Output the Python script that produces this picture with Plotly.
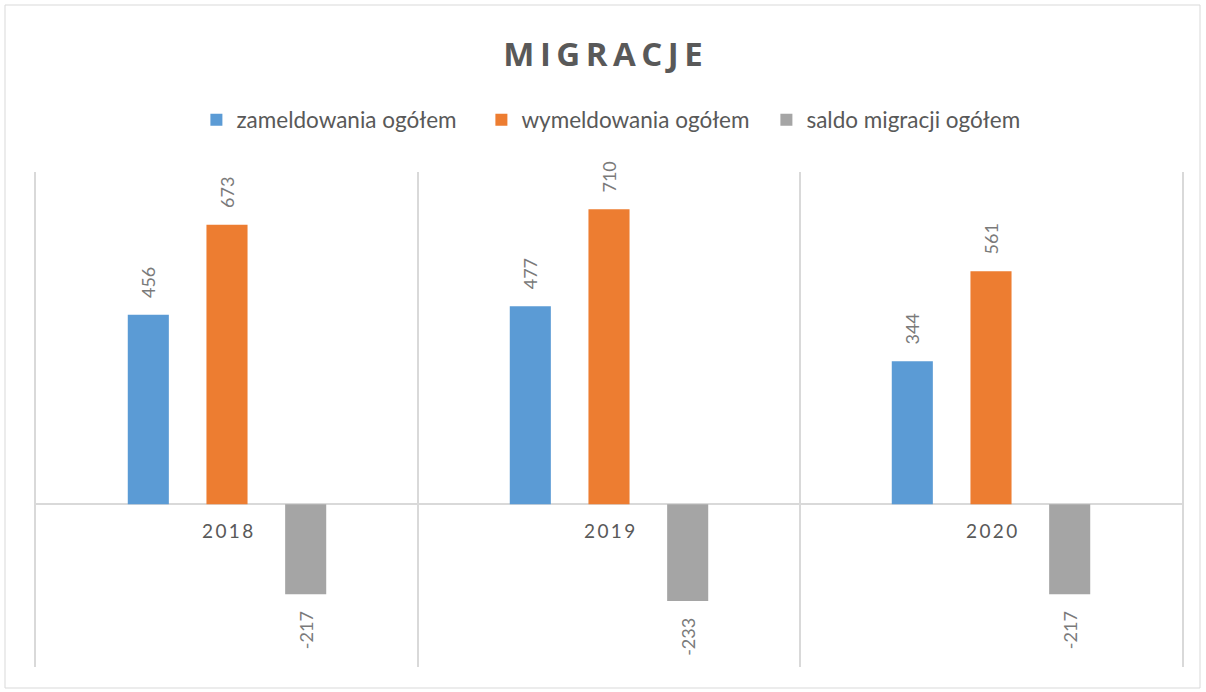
import plotly.graph_objects as go

years = ["2018", "2019", "2020"]
zameldowania = [456, 477, 344]
wymeldowania = [673, 710, 561]
saldo = [-217, -233, -217]
series_names = ["zameldowania ogółem", "wymeldowania ogółem", "saldo migracji ogółem"]
colors = ["#5B9BD5", "#ED7D31", "#A5A5A5"]

W, H = 1206, 692
ml, mr, mt, mb = 36, 24, 172, 25

fig = go.Figure()
for name, vals, col in zip(series_names, [zameldowania, wymeldowania, saldo], colors):
    fig.add_trace(go.Bar(
        x=years, y=vals, name=name, marker=dict(color=col, line=dict(width=0)),
        text=[str(v) for v in vals],
        texttemplate=["\u00a0\u00a0\u00a0%{text}" if v >= 0 else "%{text}\u00a0\u00a0\u00a0" for v in vals],
        textposition="outside", textangle=-90, constraintext="none", cliponaxis=False,
        textfont=dict(family="Lato", size=18, color="#7a7a7a"),
    ))

for i, yr in enumerate(years):
    fig.add_annotation(x=i, y=0, xref="x", yref="y", yanchor="top", yshift=-13,
                       text="\u2009".join(yr), showarrow=False,
                       font=dict(family="Lato", size=19, color="#595959"))

pw = W - ml - mr
ph = H - mt - mb
fig.add_shape(type="rect", xref="paper", yref="paper",
              x0=(5 - ml) / pw, x1=(1200 - ml) / pw,
              y0=(H - mb - 688) / ph, y1=(H - mb - 5) / ph,
              line=dict(color="#D9D9D9", width=1), layer="below")

fig.update_layout(
    width=W, height=H,
    margin=dict(l=ml, r=mr, t=mt, b=mb),
    paper_bgcolor="white", plot_bgcolor="white",
    barmode="group", bargap=0.382, bargroupgap=0.478,
    title=dict(text="\u2006".join("MIGRACJE"), x=0.5, xanchor="center",
               y=1 - 54 / H, yanchor="middle", yref="container",
               font=dict(family="Open Sans", size=33, color="#595959", weight="bold")),
    legend=dict(orientation="h", x=0.513, xanchor="center", y=1 - 120 / H, yanchor="middle",
                yref="container", font=dict(family="Lato", size=22.5, color="#595959"),
                itemwidth=30, entrywidth=240, traceorder="normal"),
    xaxis=dict(type="category", range=[-0.5, 2.5], tickson="boundaries", showgrid=True,
               gridcolor="#D9D9D9", gridwidth=1.5, showticklabels=False, ticks="",
               showline=False, zeroline=False),
    yaxis=dict(range=[-392, 800], showgrid=False, showticklabels=False, ticks="",
               zeroline=True, zerolinecolor="#D9D9D9", zerolinewidth=1.5,
               showline=True, mirror=True, linecolor="#D9D9D9", linewidth=1.5),
    showlegend=True,
)

fig.write_html("out.html", post_script="document.body.style.margin='0';",
               config={"displayModeBar": False})
